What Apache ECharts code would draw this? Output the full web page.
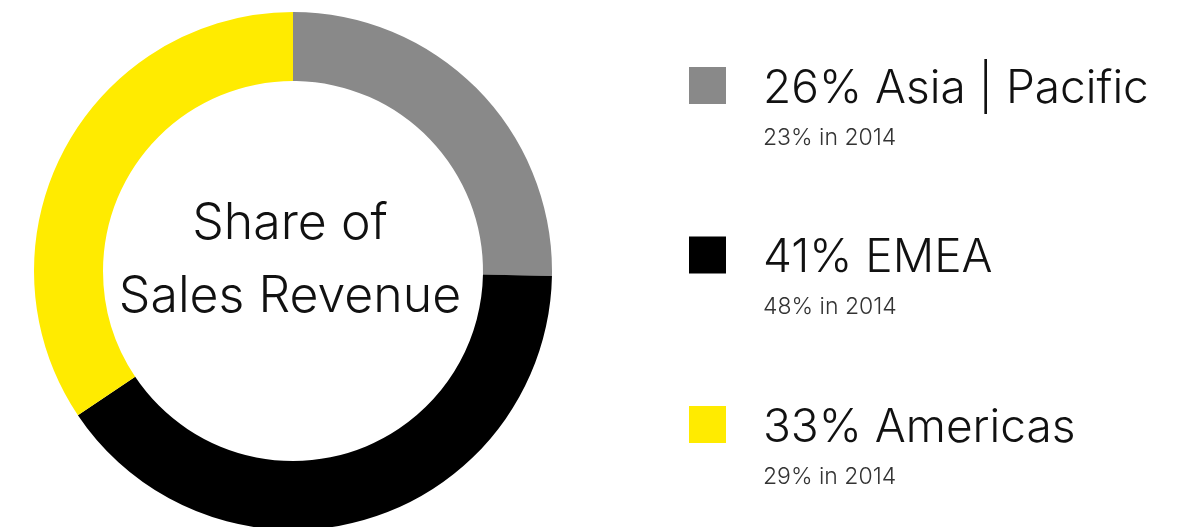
<!DOCTYPE html>
<html>
<head>
<meta charset="utf-8">
<script src="https://cdn.jsdelivr.net/npm/echarts@6/dist/echarts.min.js"></script>
<style>
  html, body { margin: 0; padding: 0; background: #ffffff; }
  #chart { width: 1202px; height: 527px; }
</style>
</head>
<body>
<div id="chart"></div>
<script>
// ---- data ----
const regions = ['Asia | Pacific', 'EMEA', 'Americas'];
const shareValues = [25.3, 40.3, 34.4];       // slice sizes as drawn in the ring
const shareLabels = ['26%', '41%', '33%'];    // share shown in the legend
const share2014 = ['23%', '48%', '29%'];
const centerLines = ['Share of', 'Sales Revenue'];

const palette = ['#898989', '#000000', '#FFEB00'];
const FONT = 'Inter';

const chart = echarts.init(document.getElementById('chart'), null, { renderer: 'canvas' });

const pieData = regions.map((r, i) => ({
  name: r,
  value: shareValues[i],
  itemStyle: { color: palette[i] }
}));

const option = {
  animation: false,
  backgroundColor: '#ffffff',
  title: {
    text: centerLines.join('\n'),
    left: 290,
    top: 187,
    padding: 0,
    textAlign: 'center',
    textStyle: {
      fontFamily: FONT,
      fontWeight: 300,
      fontSize: 50,
      lineHeight: 73,
      color: '#111111'
    }
  },
  legend: {
    orient: 'vertical',
    left: 689,
    top: 66,
    padding: 0,
    itemGap: 86,
    itemWidth: 37,
    itemHeight: 37,
    icon: 'rect',
    selectedMode: false,
    data: regions,
    formatter: function (name) {
      const i = regions.indexOf(name);
      return '{a|' + shareLabels[i] + ' ' + name + '}\n{b|' + share2014[i] + ' in 2014}';
    },
    textStyle: {
      padding: [49, 0, 0, 32],
      rich: {
        a: { fontFamily: FONT, fontWeight: 300, fontSize: 46, lineHeight: 56, color: '#111111' },
        b: { fontFamily: FONT, fontWeight: 300, fontSize: 23, lineHeight: 42, color: '#333333' }
      }
    }
  },
  series: [{
    type: 'pie',
    center: [293, 271],
    radius: [190, 259],
    startAngle: 90,
    clockwise: true,
    label: { show: false },
    labelLine: { show: false },
    emphasis: { disabled: true },
    silent: true,
    data: pieData
  }]
};

chart.setOption(option);
</script>
</body>
</html>
